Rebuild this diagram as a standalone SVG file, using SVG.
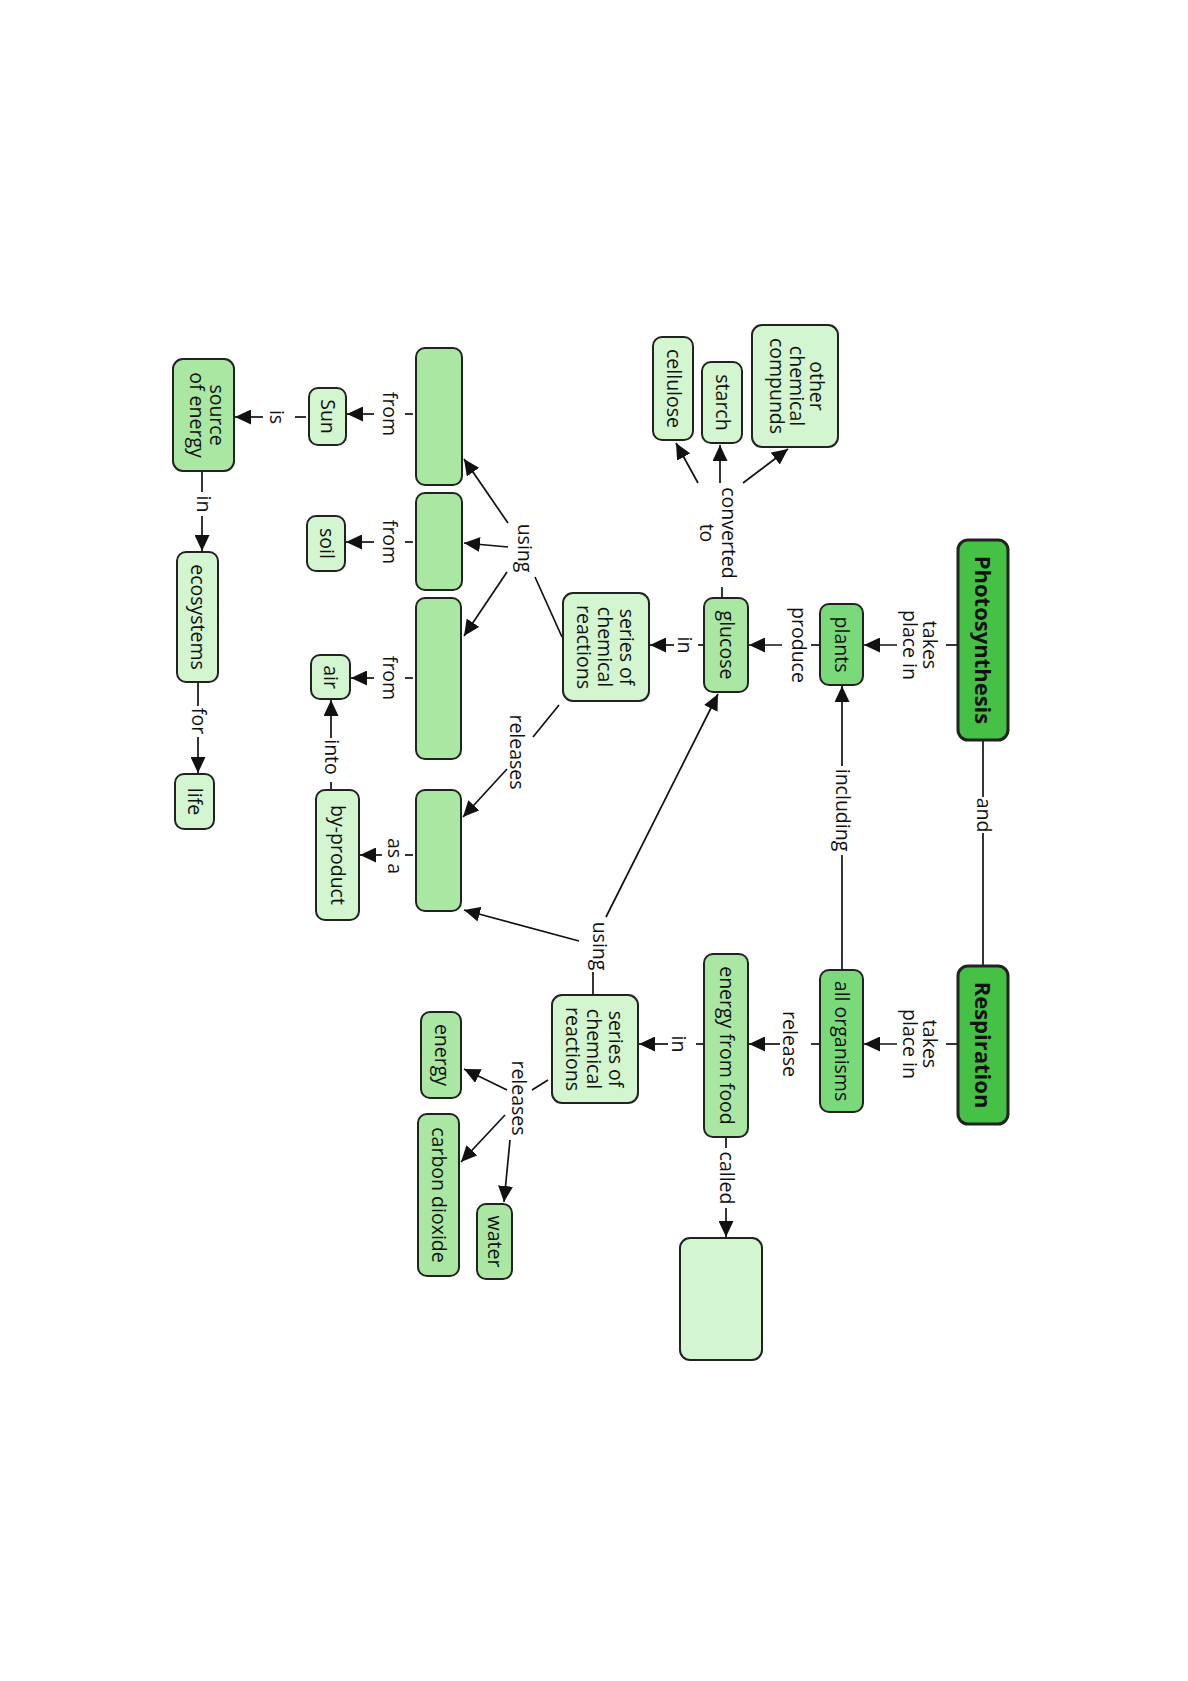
<svg xmlns="http://www.w3.org/2000/svg" width="1188" height="1681" viewBox="0 0 1188 1681">
  <defs>
    <style>
      .node rect { stroke: #222; stroke-width: 2; }
      .dark rect { fill: #45c145; stroke-width: 3; }
      .mid rect { fill: #7ad97a; }
      .soft rect { fill: #a9e7a3; }
      .pale rect { fill: #d3f5cf; }
      text { font-family: "Open Sans", "Noto Sans", "Liberation Sans", sans-serif; font-size: 19.5px; fill: #111; text-anchor: middle; }
      .dark text { font-weight: bold; font-size: 22px; }
      #connectors path { stroke: #111; stroke-width: 1.7; fill: none; }
      #connectors path.arr { marker-end: url(#head); }
    </style>
    <marker id="head" markerUnits="userSpaceOnUse" markerWidth="17" markerHeight="15" refX="16" refY="7.5" orient="auto">
      <path d="M0,0 L16,7.5 L0,15 z" fill="#111"/>
    </marker>
  </defs>
  <rect width="1188" height="1681" fill="#fff"/>

  <!-- the whole map is laid out sideways and turned a quarter turn clockwise -->
  <g transform="translate(1188,0) rotate(90)">

    <g id="connectors">
      <!-- Photosynthesis / Respiration -->
      <path d="M645,231 L645,242"/>
      <path class="arr" d="M645,291 L645,324"/>
      <path d="M1044,231 L1044,242"/>
      <path class="arr" d="M1044,291 L1044,324"/>
      <path d="M740,205 L797,205"/>
      <path d="M833,205 L966,205"/>
      <path d="M970,346 L855,346"/>
      <path class="arr" d="M766,346 L686,346"/>
      <!-- produce / release -->
      <path d="M645,368 L645,377"/>
      <path class="arr" d="M645,406 L645,439"/>
      <path d="M1044,368 L1044,377"/>
      <path class="arr" d="M1044,408 L1044,439"/>
      <!-- in -->
      <path d="M645,484 L645,490"/>
      <path class="arr" d="M645,514 L645,538"/>
      <path d="M1044,484 L1044,492"/>
      <path class="arr" d="M1044,520 L1044,549"/>
      <!-- converted to -->
      <path d="M597,466 L587,466"/>
      <path class="arr" d="M483,490 L443,512"/>
      <path class="arr" d="M483,468 L445,468"/>
      <path class="arr" d="M483,445 L449,400"/>
      <!-- using (photosynthesis reactions) -->
      <path d="M637,626 L577,653"/>
      <path class="arr" d="M523,680 L459,724"/>
      <path class="arr" d="M547,680 L543,724"/>
      <path class="arr" d="M572,681 L636,724"/>
      <!-- releases (photosynthesis reactions) -->
      <path d="M705,629 L737,655"/>
      <path class="arr" d="M769,681 L817,725"/>
      <!-- using (respiration reactions) -->
      <path d="M972,595 L994,595"/>
      <path class="arr" d="M917,582 L694,470"/>
      <path class="arr" d="M941,609 L910,724"/>
      <!-- releases (respiration reactions) -->
      <path d="M1080,640 L1090,656"/>
      <path class="arr" d="M1090,681 L1069,724"/>
      <path class="arr" d="M1115,683 L1162,727"/>
      <path class="arr" d="M1140,678 L1202,684"/>
      <!-- called -->
      <path d="M1138,462 L1148,462"/>
      <path class="arr" d="M1208,462 L1237,462"/>
      <!-- from -->
      <path d="M414,775 L414,783"/>
      <path class="arr" d="M414,814 L414,841"/>
      <path d="M542,775 L542,783"/>
      <path class="arr" d="M542,814 L542,842"/>
      <path d="M678,775 L678,783"/>
      <path class="arr" d="M678,814 L678,837"/>
      <!-- as a / into -->
      <path d="M855,775 L855,783"/>
      <path class="arr" d="M855,806 L855,828"/>
      <path d="M790,857 L782,857"/>
      <path class="arr" d="M738,857 L700,857"/>
      <!-- is / in / for -->
      <path d="M417,882 L417,893"/>
      <path class="arr" d="M417,925 L417,953"/>
      <path d="M471,986 L492,986"/>
      <path class="arr" d="M516,986 L551,986"/>
      <path d="M682,990 L706,990"/>
      <path class="arr" d="M737,990 L773,990"/>
    </g>

    <g id="link-labels">
      <text x="645" y="265">takes</text>
      <text x="645" y="285">place in</text>
      <text x="1044" y="265">takes</text>
      <text x="1044" y="285">place in</text>
      <text x="815" y="211">and</text>
      <text x="810" y="352">including</text>
      <text x="645" y="396">produce</text>
      <text x="1044" y="405">release</text>
      <text x="645" y="510">in</text>
      <text x="1044" y="516">in</text>
      <text x="533" y="466">converted</text>
      <text x="533" y="488">to</text>
      <text x="1178" y="468">called</text>
      <text x="548" y="670">using</text>
      <text x="752" y="678">releases</text>
      <text x="946" y="595">using</text>
      <text x="1098" y="676">releases</text>
      <text x="414" y="805">from</text>
      <text x="542" y="805">from</text>
      <text x="678" y="805">from</text>
      <text x="856" y="800">as a</text>
      <text x="757" y="863">into</text>
      <text x="417" y="918">is</text>
      <text x="504" y="991">in</text>
      <text x="721" y="996">for</text>
    </g>

    <g id="photosynthesis" class="node dark"><rect x="540" y="180" width="200" height="50" rx="10"/><text x="640" y="213">Photosynthesis</text></g>
    <g id="respiration" class="node dark"><rect x="966" y="180" width="158" height="50" rx="10"/><text x="1045" y="213">Respiration</text></g>
    <g id="plants" class="node mid"><rect x="604" y="325" width="81" height="43" rx="9"/><text x="644.5" y="353">plants</text></g>
    <g id="all-organisms" class="node mid"><rect x="970" y="325" width="142" height="43" rx="9"/><text x="1041" y="353">all organisms</text></g>
    <g id="glucose" class="node soft"><rect x="598" y="440" width="94" height="44" rx="9"/><text x="645" y="468">glucose</text></g>
    <g id="energy-from-food" class="node soft"><rect x="954" y="440" width="183" height="44" rx="9"/><text x="1045.5" y="468">energy from food</text></g>
    <g id="reactions-1" class="node pale"><rect x="593" y="539" width="108" height="86" rx="10"/><text x="647" y="568">series of</text><text x="647" y="590">chemical</text><text x="647" y="611">reactions</text></g>
    <g id="reactions-2" class="node pale"><rect x="995" y="550" width="108" height="86" rx="10"/><text x="1049" y="579">series of</text><text x="1049" y="601">chemical</text><text x="1049" y="622">reactions</text></g>
    <g id="cellulose" class="node pale"><rect x="337" y="495" width="103" height="40" rx="9"/><text x="388.5" y="521">cellulose</text></g>
    <g id="starch" class="node pale"><rect x="362" y="446" width="81" height="40" rx="9"/><text x="402.5" y="472">starch</text></g>
    <g id="other-compounds" class="node pale"><rect x="325" y="350" width="122" height="86" rx="10"/><text x="386" y="378">other</text><text x="386" y="398">chemical</text><text x="386" y="418">compunds</text></g>
    <g id="blank-1" class="node soft"><rect x="348" y="726" width="137" height="46" rx="9"/></g>
    <g id="blank-2" class="node soft"><rect x="493" y="726" width="97" height="46" rx="9"/></g>
    <g id="blank-3" class="node soft"><rect x="598" y="727" width="161" height="45" rx="9"/></g>
    <g id="blank-4" class="node soft"><rect x="790" y="727" width="121" height="45" rx="9"/></g>
    <g id="sun" class="node pale"><rect x="388" y="842" width="57" height="37" rx="9"/><text x="416.5" y="867">Sun</text></g>
    <g id="soil" class="node pale"><rect x="516" y="843" width="55" height="38" rx="9"/><text x="543.5" y="868">soil</text></g>
    <g id="air" class="node pale"><rect x="655" y="838" width="44" height="39" rx="9"/><text x="677" y="864">air</text></g>
    <g id="by-product" class="node pale"><rect x="790" y="829" width="130" height="43" rx="9"/><text x="855" y="857">by-product</text></g>
    <g id="source-of-energy" class="node soft"><rect x="359" y="954" width="112" height="61" rx="10"/><text x="415" y="978">source</text><text x="415" y="998">of energy</text></g>
    <g id="ecosystems" class="node pale"><rect x="552" y="970" width="130" height="41" rx="9"/><text x="617" y="997">ecosystems</text></g>
    <g id="life" class="node pale"><rect x="774" y="974" width="55" height="39" rx="9"/><text x="801.5" y="1000">life</text></g>
    <g id="energy" class="node soft"><rect x="1012" y="727" width="86" height="40" rx="9"/><text x="1055" y="753">energy</text></g>
    <g id="carbon-dioxide" class="node soft"><rect x="1114" y="729" width="162" height="41" rx="9"/><text x="1195" y="756">carbon dioxide</text></g>
    <g id="water" class="node soft"><rect x="1204" y="676" width="75" height="35" rx="9"/><text x="1241.5" y="700">water</text></g>
    <g id="blank-5" class="node pale"><rect x="1238" y="426" width="122" height="82" rx="10"/></g>
  </g>
</svg>
